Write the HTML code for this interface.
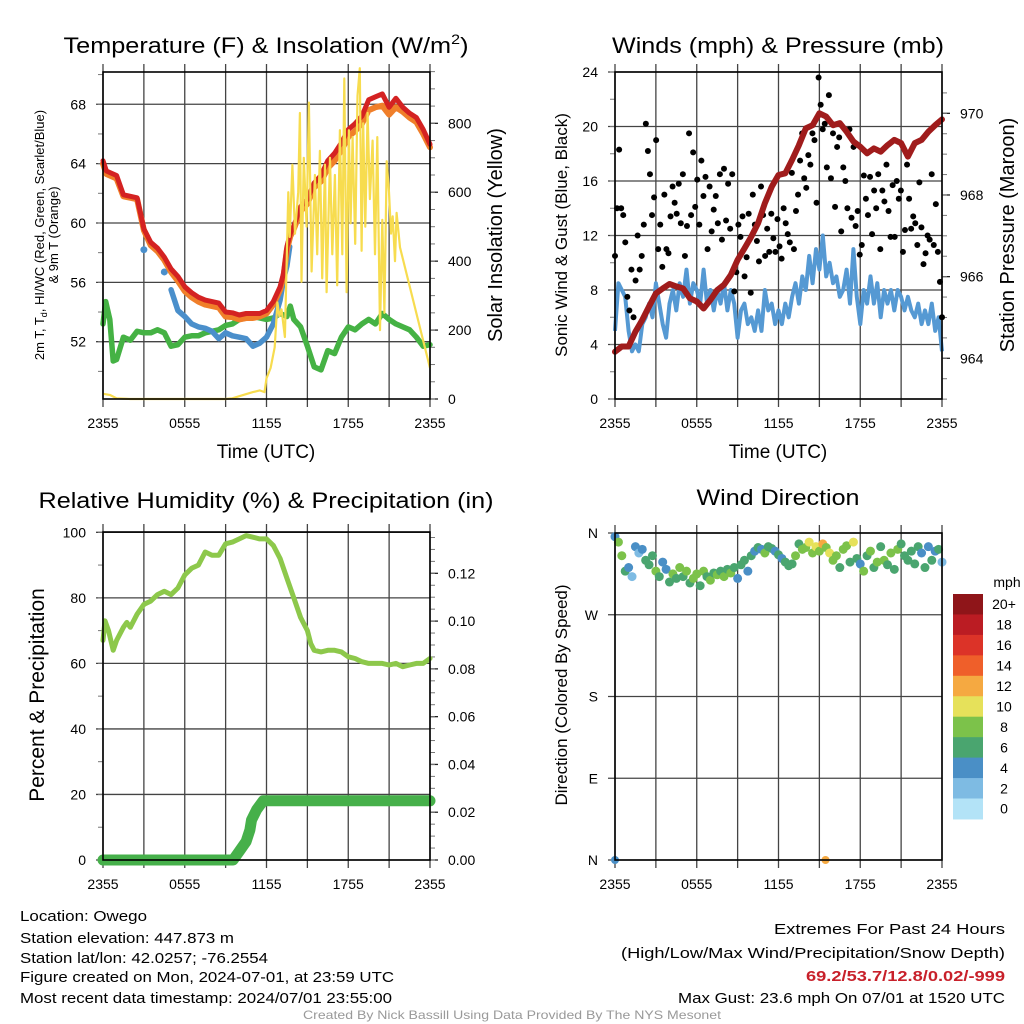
<!DOCTYPE html>
<html><head><meta charset="utf-8"><style>
html,body{margin:0;padding:0;background:#fff;}
svg{display:block;font-family:"Liberation Sans",Arial,sans-serif;}
</style></head><body>
<svg id="fig" xmlns="http://www.w3.org/2000/svg" width="1024" height="1024" viewBox="0 0 1024 1024">
<rect x="0" y="0" width="1024" height="1024" fill="#fff"/>
<text x="266" y="53" font-size="22" text-anchor="middle" textLength="405" lengthAdjust="spacingAndGlyphs">Temperature (F) &amp; Insolation (W/m<tspan font-size="14" dy="-9">2</tspan><tspan dy="9">)</tspan></text>
<text x="778" y="53" font-size="22" text-anchor="middle" textLength="332" lengthAdjust="spacingAndGlyphs">Winds (mph) &amp; Pressure (mb)</text>
<text x="266" y="508" font-size="22" text-anchor="middle" textLength="455" lengthAdjust="spacingAndGlyphs">Relative Humidity (%) &amp; Precipitation (in)</text>
<text x="778" y="505" font-size="22" text-anchor="middle" textLength="163" lengthAdjust="spacingAndGlyphs">Wind Direction</text>

<text transform="translate(44,235) rotate(-90)" font-size="13" text-anchor="middle">2m T, T<tspan font-size="9" dy="3">d</tspan><tspan dy="-3">, HI/WC (Red, Green, Scarlet/Blue)</tspan></text>
<text transform="translate(58,235) rotate(-90)" font-size="13" text-anchor="middle">&amp; 9m T (Orange)</text>
<text transform="translate(502,235) rotate(-90)" font-size="20" text-anchor="middle">Solar Insolation (Yellow)</text>
<text transform="translate(567,235) rotate(-90)" font-size="17" text-anchor="middle">Sonic Wind &amp; Gust (Blue, Black)</text>
<text transform="translate(1014,235) rotate(-90)" font-size="20" text-anchor="middle">Station Pressure (Maroon)</text>
<text transform="translate(44,695) rotate(-90)" font-size="21" text-anchor="middle">Percent &amp; Precipitation</text>
<text transform="translate(567,695) rotate(-90)" font-size="17" text-anchor="middle">Direction (Colored By Speed)</text>
<text x="266" y="458" font-size="19" text-anchor="middle">Time (UTC)</text>
<text x="778" y="458" font-size="19" text-anchor="middle">Time (UTC)</text>

<g font-size="15">
<text x="20" y="921" textLength="127" lengthAdjust="spacingAndGlyphs">Location: Owego</text>
<text x="20" y="943" textLength="214" lengthAdjust="spacingAndGlyphs">Station elevation: 447.873 m</text>
<text x="20" y="963" textLength="248" lengthAdjust="spacingAndGlyphs">Station lat/lon: 42.0257; -76.2554</text>
<text x="20" y="982" textLength="374" lengthAdjust="spacingAndGlyphs">Figure created on Mon, 2024-07-01, at 23:59 UTC</text>
<text x="20" y="1003" textLength="372" lengthAdjust="spacingAndGlyphs">Most recent data timestamp: 2024/07/01 23:55:00</text>
</g>
<g font-size="15" text-anchor="end">
<text x="1005" y="934" textLength="231" lengthAdjust="spacingAndGlyphs">Extremes For Past 24 Hours</text>
<text x="1005" y="958" textLength="384" lengthAdjust="spacingAndGlyphs">(High/Low/Max Wind/Precipitation/Snow Depth)</text>
<text x="1005" y="981" fill="#c8202a" font-weight="bold" textLength="199" lengthAdjust="spacingAndGlyphs">69.2/53.7/12.8/0.02/-999</text>
<text x="1005" y="1003" textLength="327" lengthAdjust="spacingAndGlyphs">Max Gust: 23.6 mph On 07/01 at 1520 UTC</text>
</g>
<text x="512" y="1019" font-size="12" fill="#999" text-anchor="middle" textLength="418" lengthAdjust="spacingAndGlyphs">Created By Nick Bassill Using Data Provided By The NYS Mesonet</text>
</svg>
<script>
// ---------- DATA ----------
const xTickLabels = ["2355","0555","1155","1755","2355"];
const tempTimes = [0,0.25,1,1.5,2.5,3,3.5,4,4.5,5,5.5,6,6.5,7,7.5,8,8.5,9,9.5,10,10.5,11,11.5,12,12.5,13,13.25,13.5,13.75,14,14.5,15,15.5,16,16.5,17,17.5,18,18.5,19,19.5,20,20.5,21,21.5,22,22.5,23,23.5,24];
const temp2m = [64.2,63.5,63.2,61.9,61.7,59.6,58.7,58.3,57.7,56.9,56.4,55.7,55.3,55.0,54.8,54.7,54.6,54.0,53.95,53.8,53.9,53.9,53.9,54.1,54.7,55.7,56.6,58.4,59.3,59.8,61.1,61.6,62.7,63.2,64.2,64.7,65.4,66.3,66.7,67.2,68.3,68.5,68.7,67.8,68.4,67.8,67.4,67.1,66.3,65.3];
const temp9m = [64.0,63.3,63.0,61.8,61.6,59.5,58.5,58.1,57.5,56.7,56.1,55.4,55.0,54.7,54.5,54.4,54.3,53.7,53.65,53.5,53.6,53.6,53.7,53.9,54.5,55.5,56.4,58.2,59.1,59.6,60.8,61.3,62.4,62.8,63.7,64.2,64.9,65.8,66.2,66.7,67.6,67.8,67.9,67.3,67.8,67.5,67.1,66.8,66.0,65.1];
const dewTimes = [0,0.2,0.5,0.75,1,1.5,2,2.5,3,3.5,4,4.5,5,5.5,6,6.5,7,7.5,8,8.5,9,9.5,10,10.5,11,11.5,12,12.5,13,13.5,13.75,14,14.5,15,15.5,16,16.5,17,17.5,18,18.5,19,19.5,20,20.5,21,21.5,22,22.5,23,23.5,24];
const dewPoint = [53.2,54.7,53.5,50.7,50.8,52.3,52.1,52.7,52.6,52.6,52.8,52.6,51.7,51.8,52.3,52.4,52.4,52.6,52.7,52.8,53.1,53.2,53.5,53.6,53.7,53.6,53.5,53.6,53.9,53.7,54.4,53.5,53.0,51.7,50.3,50.1,51.4,51.2,52.3,53.0,52.8,53.2,53.5,53.2,53.9,53.5,53.2,53.0,52.8,52.3,51.7,51.8];
const chillTimes = [5,5.5,6,6.5,7,7.5,8,8.5,9,9.5,10,10.5,11,11.5,12,12.5,13,13.25,13.5,13.7];
const windChill = [55.5,54.1,53.7,53.2,53.0,52.9,52.7,52.2,52.6,52.4,52.3,52.2,51.7,51.9,52.3,53.2,54.8,56.2,57.1,58.4];
const chillDotTimes = [3,4.5];
const chillDots = [58.2,56.7];
const solarTimes = [0,0.5,1,2,9,9.5,10,11,11.5,11.85,12,12.3,12.6,12.8,12.95,13.1,13.35,13.6,13.7,13.9,14.09,14.33,14.45,14.57,14.74,14.94,15.11,15.31,15.55,15.72,15.92,16.09,16.29,16.41,16.66,16.83,17.02,17.19,17.39,17.56,17.71,17.88,18.05,18.17,18.32,18.51,18.68,18.85,18.98,19.1,19.25,19.42,19.59,19.79,19.96,20.13,20.33,20.5,20.65,20.82,20.99,21.14,21.26,21.43,21.55,21.8,24];
const solar = [15,12,2,0,0,2,8,20,25,20,60,90,150,280,240,260,180,600,470,680,480,600,830,340,700,500,860,370,650,420,720,350,680,310,700,420,650,330,780,420,930,310,780,510,760,450,880,960,430,800,500,830,580,750,420,760,200,520,250,690,600,480,530,400,540,440,90];
const sonicWind = [5,8.5,8,7.5,5,3.5,4,3.5,5.5,6,7,6,8.5,7,5.5,4.5,7,8,6.5,8.5,7.5,9.5,7,8.5,8,7,9.5,7,8,6.5,8,7,8.5,6.5,8,7,4.5,6.5,7,5.5,6,5,6.5,5,8,6.5,7,5.5,6.5,5.5,7,6,7.5,8.5,7,9,8,10.5,8.5,11,9.5,12,9,10,8.5,9,7.5,8,9.5,7,11,7.5,5.5,8,7,9,7,8.5,6,8,7,8,6.5,8,7.5,6.5,7.5,6.5,6,7,5.5,6.5,5.5,7,5,6,3.5];
const gusts = [10.5,14,18.3,14,13.5,11.5,7.5,6.5,9.5,6,8.7,12,9.5,10.5,12.8,20.2,18.2,16.5,13.5,14.8,19,11,12.8,9.7,15,11,10.7,13.4,15.6,14.4,13.6,15.8,12.9,16.5,10.5,12.7,19.5,13.5,18.1,14.1,16.1,12.8,17.5,14.9,16.3,11,15.6,12.3,13.9,14.9,12.9,16.5,11.7,16.9,13.1,15.8,12.5,16.5,7.9,9.3,12.8,11.9,13.4,9,10.4,13.6,7.8,15,12.8,11.6,10.1,15.6,13.5,10.5,12.5,10.8,13.6,11.8,10.8,13.2,11.2,10.3,14,12.9,12.1,11.5,16.6,11,13.8,15,17.5,19.5,16.2,15.5,17.9,17.2,19.5,19,14.4,23.6,21.6,19.8,20.2,17,22.3,16.2,19.5,14.1,18.5,19.2,12.3,17,16,14,19.8,13.3,18.5,12.7,13.8,10.6,11.3,16.4,14.7,13.5,16.3,12.1,15.3,14,16.5,11,15.3,14.5,17.2,13.8,11.9,15.7,11.9,16,14.7,15.3,10.8,12.4,17.2,14.7,12.5,13.4,12.9,11.3,15.9,12.6,9.9,10.7,12,11.7,16.5,11.3,14.3,10.8,8.6,6];
const pressure = [964.16,964.29,964.29,964.65,964.94,965.27,965.59,965.71,965.82,965.76,965.71,965.47,965.39,965.22,965.43,965.67,965.80,966.04,966.41,966.69,966.98,967.31,967.80,968.20,968.49,968.53,968.86,969.22,969.63,969.71,970.00,969.92,969.71,969.76,969.55,969.31,969.18,969.02,969.14,969.06,969.22,969.35,969.27,968.94,969.27,969.35,969.55,969.71,969.85];
const rhTimes = [0,0.15,0.4,0.75,1,1.5,1.75,2,2.5,3,3.5,4,4.5,5,5.5,6,6.5,7,7.5,8,8.5,9,9.5,10,10.5,11,11.5,12,12.5,13,13.5,14,14.5,15,15.25,15.5,16,16.5,17,17.5,18,18.5,19,19.5,20,20.5,21,21.5,22,22.5,23,23.5,24];
const relHumidity = [67,73,70,64,67,71,72.5,71,75,78,79,81,82,81,83,87,89,90,94,93,93,96.5,97,98,99,98.5,98,98,96,92,86,80,74,70,66,64,63.5,64,64,63.5,62,61.5,60.5,60,60,60,59.5,60,59,59.5,60,60,61.5];
const precipTimes = [0,9.55,10.05,10.5,10.78,10.9,11.27,11.76,24];
const precip = [0,0,0.004,0.0077,0.0126,0.0167,0.021,0.0248,0.0248];
const windDir = [356,350,335,318,322,312,345,338,342,330,325,335,318,312,328,320,306,315,310,322,312,318,305,310,315,302,318,312,308,316,314,318,312,320,316,322,310,325,330,318,335,340,344,342,338,345,343,340,336,332,328,324,326,335,348,342,344,350,338,345,340,348,344,338,330,335,322,342,346,328,350,332,326,318,335,340,322,328,345,330,325,338,320,342,348,335,330,340,326,345,338,322,345,330,340,342,328];
const outlierTimes = [0,15.45];
const outlierDir = [0,0];
const outlierSpeed = [4.5,12.5];
const speedBinLabels = ["0","2","4","6","8","10","12","14","16","18","20+"];
const speedBinColors = ["#b3e3f7","#7ebbe3","#4a8fc6","#4aa56f","#7cc24a","#e6e15a","#f5a941","#ef5f2a","#dc3328","#bb1c23","#8f1519"];

// ---------- HELPERS ----------
const NS = "http://www.w3.org/2000/svg";
const svg = document.getElementById("fig");
function mk(tag, parent, attrs) {
  const e = document.createElementNS(NS, tag);
  for (const k in attrs) e.setAttribute(k, attrs[k]);
  parent.appendChild(e);
  return e;
}
function evenTimes(n) { const a = []; for (let i = 0; i < n; i++) a.push(i * 24 / (n - 1)); return a; }
function pathFrom(ts, vs, xf, yf) {
  return ts.map((t, i) => (i ? "L" : "M") + xf(t).toFixed(1) + "," + yf(vs[i]).toFixed(1)).join("");
}
function speedColor(s) { let i = Math.floor(s / 2); if (i > 10) i = 10; if (i < 0) i = 0; return speedBinColors[i]; }

function panel(cfg) {
  const g = mk("g", svg, {});
  
  
  const xs = t => cfg.x0 + t / 24 * (cfg.x1 - cfg.x0);
  cfg.xs = xs;
  const grid = mk("g", g, {});
  
  
  for (let h = 0; h <= 24; h += 3) {
    const x = xs(h);
    const ln = mk("line", grid, {x1: x, x2: x, y1: cfg.y0 - 8, y2: cfg.y1 + 8, stroke: "#444", "stroke-width": 1.3});
    
    
  }
  xTickLabels.forEach((lab, i) => {
    const tx = mk("text", g, {x: xs(i * 6), y: cfg.y1 + 29, "font-size": 14, "text-anchor": "middle"});
    tx.textContent = lab;
    
    
  });
  cfg.leftTicks.forEach(v => {
    const y = cfg.yL(v);
    const ln = mk("line", grid, {x1: cfg.x0 - 7, x2: cfg.x1, y1: y, y2: y, stroke: "#444", "stroke-width": 1.3});
    
    
    const tx = mk("text", g, {x: cfg.x0 - 17, y: y + 5, "font-size": 14, "text-anchor": "end"});
    tx.textContent = cfg.leftFmt ? cfg.leftFmt(v) : v;
    
    
  });
  (cfg.leftMinor || []).forEach(v => {
    const y = cfg.yL(v);
    mk("line", grid, {x1: cfg.x0 - 5, x2: cfg.x0, y1: y, y2: y, stroke: "#777", "stroke-width": 1});
  });
  (cfg.rightTicks || []).forEach(v => {
    const y = cfg.yR(v);
    mk("line", grid, {x1: cfg.x1, x2: cfg.x1 + 8, y1: y, y2: y, stroke: "#222", "stroke-width": 1.3});
    const tx = mk("text", g, {x: cfg.x1 + 18, y: y + 5, "font-size": 14});
    tx.textContent = cfg.rightFmt(v);
    
    
  });
  (cfg.rightMinor || []).forEach(v => {
    const y = cfg.yR(v);
    mk("line", grid, {x1: cfg.x1, x2: cfg.x1 + 5, y1: y, y2: y, stroke: "#777", "stroke-width": 1});
  });
  const data = mk("g", g, {});
  
  
  cfg.data = data;
  cfg.g = g;
  return cfg;
}
function frame(cfg) {
  const f = mk("rect", cfg.g, {x: cfg.x0, y: cfg.y0, width: cfg.x1 - cfg.x0, height: cfg.y1 - cfg.y0, fill: "none", stroke: "#000", "stroke-width": 1.6});
  
  
}
function range(a, b, s) { const r = []; for (let v = a; v <= b + 1e-9; v += s) r.push(+v.toFixed(4)); return r; }

// ---------- PANEL 1: Temperature ----------
const p1 = panel({name: "temperature-panel", x0: 103, x1: 430, y0: 72, y1: 399,
  yL: v => 341.7 - (v - 52) * 14.84, yR: v => 399 - v * 0.3446,
  leftTicks: [52,56,60,64,68], leftMinor: range(50,70,2),
  rightTicks: [0,200,400,600,800], rightMinor: range(0,950,50), rightFmt: v => v});
{
  const xs = p1.xs;
  let e;
  e = mk("path", p1.data, {d: pathFrom(dewTimes, dewPoint, xs, p1.yL), fill: "none", stroke: "#45b244", "stroke-width": 5.5, "stroke-linejoin": "round", "stroke-linecap": "round"});
  
  
  e = mk("path", p1.data, {d: pathFrom(chillTimes, windChill, xs, p1.yL), fill: "none", stroke: "#4a8fcb", "stroke-width": 5.5, "stroke-linejoin": "round", "stroke-linecap": "round"});
  
  
  chillDotTimes.forEach((t, i) => {
    const c = mk("circle", p1.data, {cx: xs(t), cy: p1.yL(chillDots[i]), r: 3.5, fill: "#4a8fcb"});
    
    
  });
  e = mk("path", p1.data, {d: pathFrom(tempTimes, temp9m, xs, p1.yL), fill: "none", stroke: "#f07f2a", "stroke-width": 6, "stroke-linejoin": "round", "stroke-linecap": "round"});
  
  
  e = mk("path", p1.data, {d: pathFrom(tempTimes, temp2m, xs, p1.yL), fill: "none", stroke: "#d42222", "stroke-width": 5, "stroke-linejoin": "round", "stroke-linecap": "round"});
  
  
  e = mk("path", p1.data, {d: pathFrom(solarTimes, solar, xs, p1.yR), fill: "none", stroke: "#f7dc4f", "stroke-width": 2.2, "stroke-linejoin": "round"});
  
  
}
frame(p1);

// ---------- PANEL 2: Winds & Pressure ----------
const p2 = panel({name: "wind-panel", x0: 615, x1: 942, y0: 72, y1: 399,
  yL: v => 399 - v * 13.625, yR: v => 358.3 - (v - 964) * 40.83,
  leftTicks: [0,4,8,12,16,20,24], leftMinor: range(0,24,2),
  rightTicks: [964,966,968,970], rightMinor: range(963.0,970.5,0.5), rightFmt: v => v});
{
  const xs = p2.xs;
  let e = mk("path", p2.data, {d: pathFrom(evenTimes(sonicWind.length), sonicWind, xs, p2.yL), fill: "none", stroke: "#5599d3", "stroke-width": 4, "stroke-linejoin": "round"});
  
  
  const gt = evenTimes(gusts.length);
  gusts.forEach((v, i) => {
    const c = mk("circle", p2.data, {cx: xs(gt[i]), cy: p2.yL(v), r: 3, fill: "#000"});
    
    
  });
  e = mk("path", p2.data, {d: pathFrom(evenTimes(pressure.length), pressure, xs, p2.yR), fill: "none", stroke: "#a01c1c", "stroke-width": 6, "stroke-linejoin": "round", "stroke-linecap": "round"});
  
  
}
frame(p2);

// ---------- PANEL 3: RH & Precip ----------
const p3 = panel({name: "humidity-panel", x0: 103, x1: 430, y0: 532, y1: 860,
  yL: v => 860 - v * 3.277, yR: v => 860 - v * 2389,
  leftTicks: [0,20,40,60,80,100], leftMinor: range(0,100,10),
  rightTicks: [0,0.02,0.04,0.06,0.08,0.10,0.12], rightMinor: range(0,0.135,0.005), rightFmt: v => v.toFixed(2)});
{
  const xs = p3.xs;
  let e = mk("path", p3.data, {d: pathFrom(rhTimes, relHumidity, xs, p3.yL), fill: "none", stroke: "#8dc84b", "stroke-width": 5, "stroke-linejoin": "round", "stroke-linecap": "round"});
  
  
  e = mk("path", p3.data, {d: pathFrom(precipTimes, precip, xs, p3.yR), fill: "none", stroke: "#46b04a", "stroke-width": 11, "stroke-linejoin": "round", "stroke-linecap": "round"});
  
  
}
frame(p3);

// ---------- PANEL 4: Wind direction ----------
const p4 = panel({name: "direction-panel", x0: 615, x1: 942, y0: 533, y1: 860,
  yL: v => 860 - v * 0.9083, leftTicks: [0,90,180,270,360],
  leftFmt: v => ({0:"N",90:"E",180:"S",270:"W",360:"N"})[v]});
{
  const xs = p4.xs;
  const dt = evenTimes(windDir.length);
  windDir.forEach((d, i) => {
    const c = mk("circle", p4.data, {cx: xs(dt[i]), cy: p4.yL(d), r: 4.5, fill: speedColor(sonicWind[i])});
    
    
  });
  outlierTimes.forEach((t, i) => {
    const c = mk("circle", p4.data, {cx: xs(t), cy: p4.yL(outlierDir[i]), r: 4, fill: speedColor(outlierSpeed[i])});
    
    
  });
}
frame(p4);

// ---------- Colorbar ----------
{
  const cb = mk("g", svg, {});
  
  
  const top = 594, h = 20.45;
  const n = speedBinColors.length;
  for (let i = 0; i < n; i++) {
    const idx = n - 1 - i;
    const r = mk("rect", cb, {x: 953, y: top + i * h, width: 30, height: h + 0.5, fill: speedBinColors[idx]});
    
    
    const t = mk("text", cb, {x: 1004, y: top + i * h + h / 2 + 5, "font-size": 14, "text-anchor": "middle"});
    t.textContent = speedBinLabels[idx];
    
    
  }
  const u = mk("text", cb, {x: 1007, y: 587, "font-size": 14, "text-anchor": "middle"});
  u.textContent = "mph";
  
  
}
</script>
</body></html>
